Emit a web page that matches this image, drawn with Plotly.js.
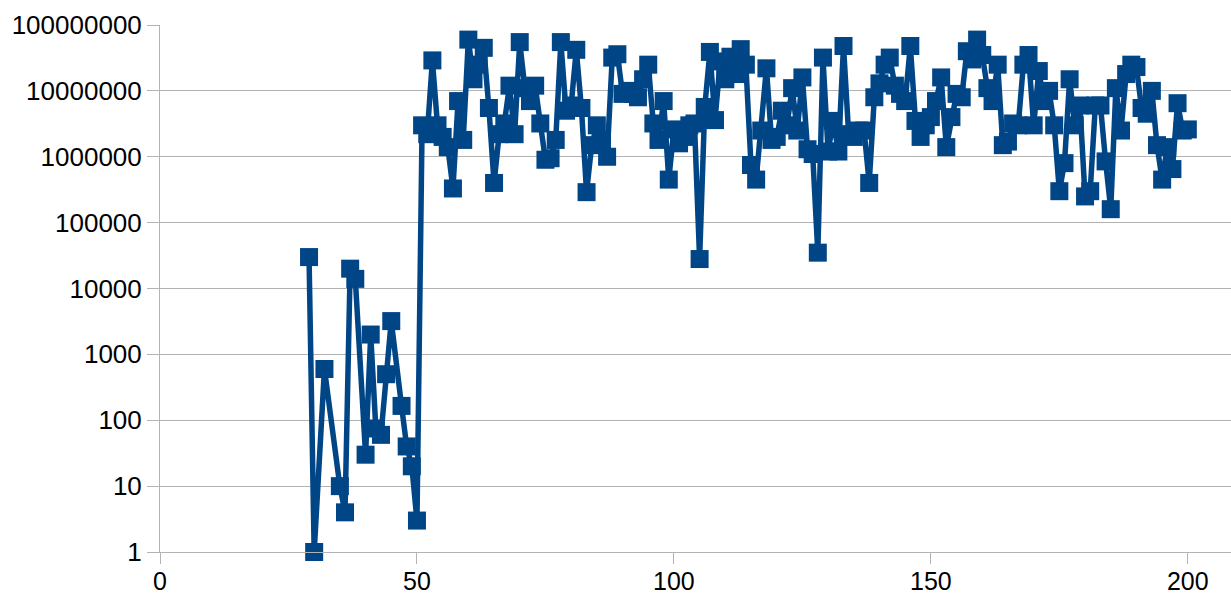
<!DOCTYPE html>
<html>
<head>
<meta charset="utf-8">
<script src="https://cdn.plot.ly/plotly-3.0.1.min.js"></script>
<style>
html,body{margin:0;padding:0;background:#fff;}
#chart{width:1231px;height:598px;}
</style>
</head>
<body>
<div id="chart"></div>
<script>
const xValues = [29,30,32,35,36,37,38,40,41,42,43,44,45,47,48,49,50,
51,52,53,54,55,56,57,58,59,60,61,62,63,64,65,66,67,68,69,70,
71,72,73,74,75,76,77,78,79,80,81,82,83,84,85,86,87,88,89,90,
91,92,93,94,95,96,97,98,99,100,101,102,103,104,105,106,107,108,109,110,
111,112,113,114,115,116,117,118,119,120,121,122,123,124,125,126,127,128,129,130,
131,132,133,134,135,136,137,138,139,140,141,142,143,144,145,146,147,148,149,150,
151,152,153,154,155,156,157,158,159,160,161,162,163,164,165,166,167,168,169,170,
171,172,173,174,175,176,177,178,179,180,181,182,183,184,185,186,187,188,189,190,
191,192,193,194,195,196,197,198,199,200];

const yValues = [30000,1,600,10,4,20000,14000,30,2000,75,60,500,3200,165,40,20,3,
3e6,2.2e6,2.9e7,3e6,2e6,1.4e6,3.3e5,7e6,1.8e6,6e7,1.5e7,2.5e7,4.5e7,5.5e6,4e5,2.2e6,3.2e6,1.2e7,2.2e6,5.5e7,
1.1e7,7e6,1.2e7,3.2e6,9e5,9.5e5,1.8e6,5.5e7,5e6,6e6,4.2e7,5.5e6,2.9e5,1.5e6,3e6,1.8e6,1e6,3.2e7,3.6e7,9e6,
1e7,9e6,8e6,1.5e7,2.5e7,3.2e6,1.8e6,7e6,4.5e5,2.6e6,1.6e6,2e6,3e6,3.2e6,2.8e4,5.7e6,3.9e7,3.6e6,2.8e7,1.5e7,
3.3e7,1.8e7,4.3e7,2.5e7,7.5e5,4.5e5,2.5e6,2.2e7,1.8e6,2e6,5e6,3e6,1.1e7,2.5e6,1.6e7,1.3e6,1.1e6,3.5e4,3.2e7,1.2e6,
3.5e6,1.2e6,4.8e7,2.2e6,2e6,2.5e6,2.5e6,4e5,8e6,1.3e7,2.5e7,3.2e7,1.2e7,9e6,7e6,4.8e7,3.5e6,2e6,3e6,4e6,
7e6,1.6e7,1.4e6,4e6,9e6,8e6,4e7,3e7,6e7,3.5e7,1.1e7,7e6,2.5e7,1.5e6,1.7e6,3.2e6,3e6,2.5e7,3.5e7,3e6,
2e7,7e6,1e7,3e6,3e5,8e5,1.5e7,3e6,6e6,2.5e5,3e5,6e6,6e6,8.5e5,1.6e5,1.1e7,2.5e6,1.8e7,2.5e7,2.3e7,
5.5e6,4.5e6,1e7,1.5e6,4.5e5,1.4e6,6.5e5,6.5e6,2.5e6,2.6e6];

const yTickVals = [1,10,100,1000,10000,100000,1000000,10000000,100000000];
const yTickText = ["1","10","100","1000","10000","100000","1000000","10000000","100000000"];
const xTickVals = [0,50,100,150,200];

const trace = {
  x: xValues,
  y: yValues,
  type: 'scatter',
  mode: 'lines+markers',
  line: {color: '#004586', width: 5.5},
  marker: {symbol: 'square', size: 18, color: '#004586', line: {width: 0}},
  cliponaxis: false,
  hoverinfo: 'skip'
};

const fontSpec = {family: '"Liberation Sans", Arial, sans-serif', size: 26, color: '#000000'};

const layout = {
  width: 1231,
  height: 598,
  margin: {l: 160, r: 0, t: 25, b: 46, pad: 0},
  paper_bgcolor: '#ffffff',
  plot_bgcolor: '#ffffff',
  showlegend: false,
  font: fontSpec,
  xaxis: {
    range: [0, 208.4],
    tickmode: 'array',
    tickvals: xTickVals,
    ticktext: xTickVals.map(String),
    showgrid: false,
    zeroline: false,
    showline: true,
    linecolor: '#b3b3b3',
    linewidth: 1,
    ticks: 'outside',
    ticklen: 11,
    tickcolor: '#b3b3b3',
    tickwidth: 1,
    ticklabelstandoff: -4,
    tickfont: {family: '"Liberation Sans", Arial, sans-serif', size: 25, color: '#000000'}
  },
  yaxis: {
    type: 'log',
    range: [0, 8],
    tickmode: 'array',
    tickvals: yTickVals,
    ticktext: yTickText,
    showgrid: true,
    gridcolor: '#b3b3b3',
    gridwidth: 1,
    zeroline: false,
    showline: true,
    linecolor: '#b3b3b3',
    linewidth: 1,
    ticks: 'outside',
    ticklen: 12,
    tickcolor: '#b3b3b3',
    tickwidth: 1,
    tickfont: fontSpec
  }
};

Plotly.newPlot('chart', [trace], layout, {displayModeBar: false, staticPlot: true});
</script>
</body>
</html>
